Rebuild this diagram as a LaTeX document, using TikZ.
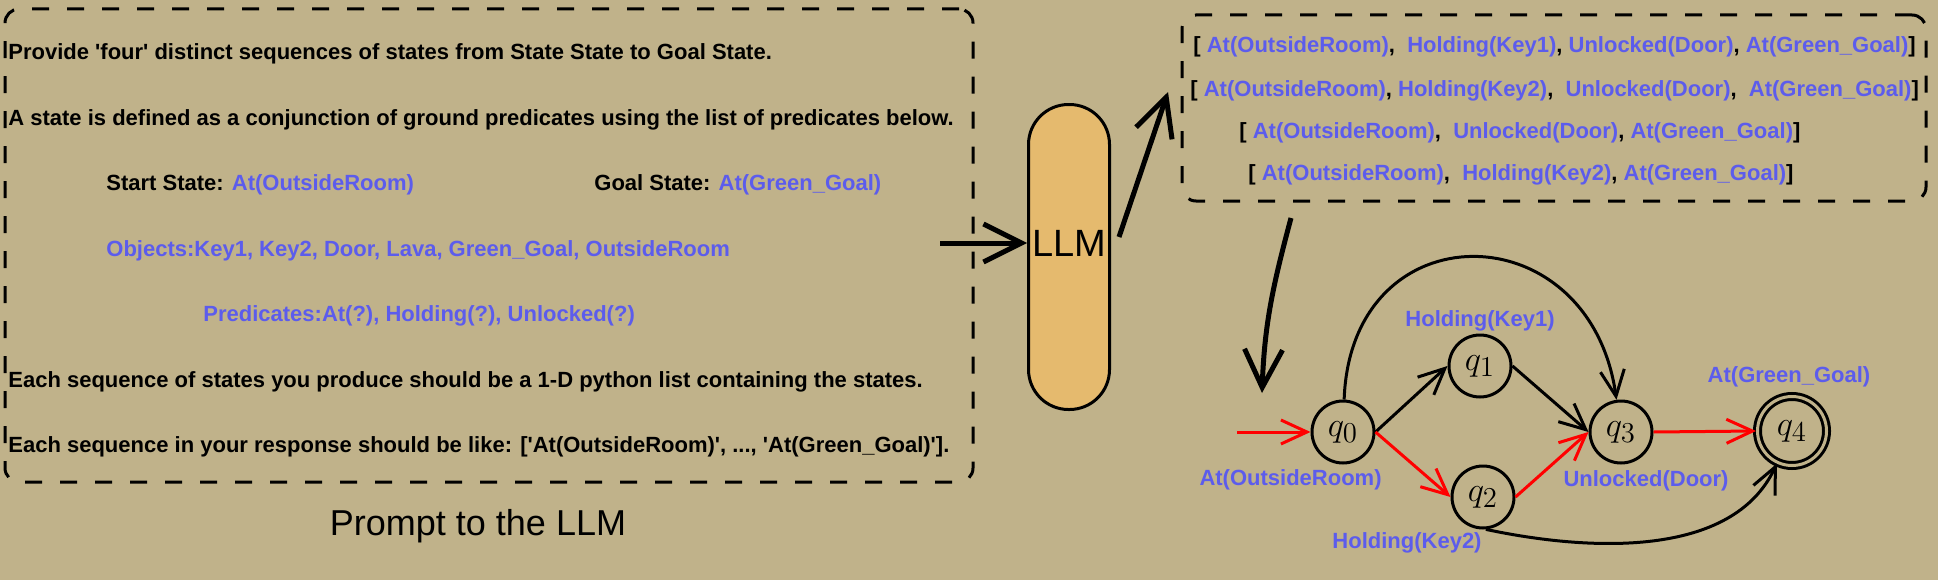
\documentclass[tikz,border=0pt]{standalone}
\usepackage{fontspec}
\setmainfont{Liberation Sans}[Ligatures=TeXOff]
\usetikzlibrary{arrows.meta}

\definecolor{bgtan}{RGB}{192,178,138}
\definecolor{predblue}{RGB}{92,92,236}
\definecolor{llmfill}{RGB}{229,186,110}
\newcommand{\bk}[1]{\textcolor{black}{#1}}

\begin{document}
\begin{tikzpicture}
  [x=0.5pt,y=0.5pt,
    font=\fontsize{11}{13}\selectfont\bfseries,
    dashbox/.style={draw,line width=1.5pt,dash pattern=on 8.5pt off 9pt,
      rounded corners=7pt,inner sep=0pt},
    txt/.style={anchor=base west,inner sep=0pt},
    pred/.style={text=predblue,inner sep=0pt},
    qnode/.style={draw,circle,line width=1.5pt,minimum size=31pt,inner sep=0pt,
      font=\fontsize{19}{19}\selectfont},
    tedge/.style={line width=1.5pt,-{Straight Barb[length=13pt,width=12pt]}},
    redge/.style={tedge,red},
    bigarrow/.style={line width=2.5pt,-{Straight Barb[length=19pt,width=19pt]}}]

  \fill[bgtan] (0,0) rectangle (1938,580);

  % the prompt
  \node[dashbox,minimum width=484pt,minimum height=236.5pt] (prompt) at (489,334.5) {};
  \node[txt] (p1) at (8,521) {Provide 'four' distinct sequences of states from State State to Goal State.};
  \node[txt] (p2) at (8,455) {A state is defined as a conjunction of ground predicates using the list of predicates below.};
  \node[txt] (p3) at (106,390) {Start State: \textcolor{predblue}{At(OutsideRoom)}};
  \node[txt] (p3b) at (594,390) {Goal State: \textcolor{predblue}{At(Green\_Goal)}};
  \node[txt,pred] (p4) at (106,324) {Objects:Key1, Key2, Door, Lava, Green\_Goal, OutsideRoom};
  \node[txt,pred] (p5) at (203,259) {Predicates:At(?), Holding(?), Unlocked(?)};
  \node[txt] (p6) at (8,193) {Each sequence of states you produce should be a 1-D python list containing the states.};
  \node[txt] (p7) at (8,128) {Each sequence in your response should be like: ['At(OutsideRoom)', ..., 'At(Green\_Goal)'].};
  \node[anchor=base,font=\fontsize{18}{18}\selectfont] (cap) at (478,45) {Prompt to the LLM};

  % the model
  \node[draw,fill=llmfill,line width=1.5pt,rounded corners=20pt,
    minimum width=40.5pt,minimum height=152.5pt,
    label={[font=\fontsize{19}{19}\selectfont,yshift=7pt]center:LLM}] (llm) at (1069,323) {};
  \coordinate (pin) at (940,337);
  \coordinate (pout) at (1119,343);
  \coordinate (ptip) at (1168,488);
  \draw[bigarrow] (pin) -- (pin -| llm.west);
  \draw[bigarrow] (pout) -- (ptip);

  % the answer
  \node[dashbox,minimum width=372pt,minimum height=93pt] (plans) at (1554,472) {};
  \node[txt,pred] (s1) at (1193,527) {\bk{[}\ At(OutsideRoom)\bk{,}\ \ Holding(Key1)\bk{,} Unlocked(Door)\bk{,} At(Green\_Goal)\bk{]}};
  \node[txt,pred] (s2) at (1190,484) {\bk{[}\ At(OutsideRoom)\bk{,} Holding(Key2)\bk{,}\ \ Unlocked(Door)\bk{,}\ \ At(Green\_Goal)\bk{]}};
  \node[txt,pred] (s3) at (1239,442) {\bk{[}\ At(OutsideRoom)\bk{,}\ \ Unlocked(Door)\bk{,} At(Green\_Goal)\bk{]}};
  \node[txt,pred] (s4) at (1248,400) {\bk{[}\ At(OutsideRoom)\bk{,}\ \ Holding(Key2)\bk{,} At(Green\_Goal)\bk{]}};
  \coordinate (pdown) at (1291,362);
  \coordinate (qin) at (1262,187);
  \draw[bigarrow] (pdown) to[out=-105,in=88] (qin);

  % the automaton
  \node[qnode] (q0) at (1343,148) {$q_0$};
  \node[qnode] (q1) at (1480,214) {$q_1$};
  \node[qnode] (q2) at (1483,83) {$q_2$};
  \node[qnode] (q3) at (1621,148) {$q_3$};
  \node[qnode,double=bgtan,double distance=1.5pt,minimum size=34.5pt] (q4) at (1792,149) {$q_4$};
  \coordinate (start) at (1237,148);

  \draw[redge] (start) -- (q0.west);
  \draw[tedge] (q0.east) -- (q1.west);
  \draw[redge] (q0.east) -- (q2.west);
  \draw[tedge] (q1.east) -- (q3.west);
  \draw[redge] (q2.east) -- (q3.west);
  \draw[redge] (q3.east) -- (q4.west);
  \draw[tedge] (q0) to[out=88,in=98,looseness=1.8] (q3);
  \draw[tedge] (q2.-85) to[out=-12,in=-115,looseness=0.9] (q4);

  \node[pred,anchor=base] (l1) at (1480,254) {Holding(Key1)};
  \node[pred,anchor=base east] (l0) at (1382,95) {At(OutsideRoom)};
  \node[pred,anchor=base] (l2) at (1407,32) {Holding(Key2)};
  \node[pred,anchor=base] (l3) at (1646,94) {Unlocked(Door)};
  \node[pred,anchor=base] (l4) at (1789,198) {At(Green\_Goal)};

\end{tikzpicture}
\end{document}
